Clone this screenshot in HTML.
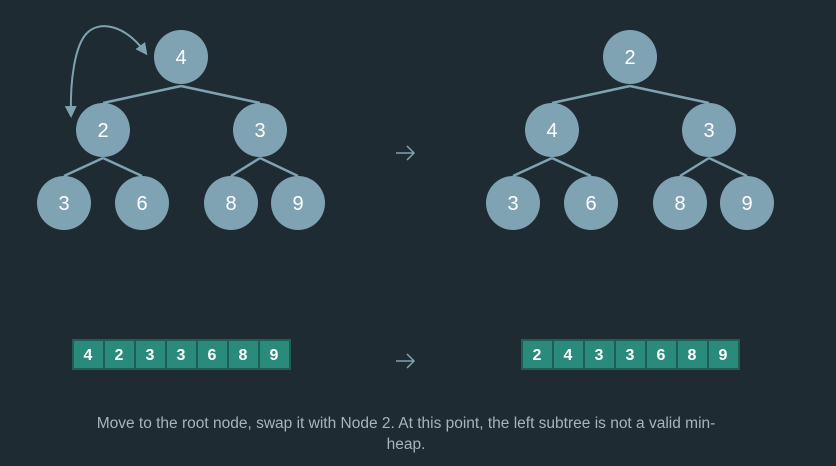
<!DOCTYPE html>
<html><head><style>
body{margin:0;background:#1f2b33;width:836px;height:466px;overflow:hidden;font-family:"Liberation Sans",sans-serif}
svg{position:absolute;left:0;top:0}
</style></head><body>
<svg width="836" height="466" viewBox="0 0 836 466">
<defs><marker id="ah" markerWidth="12" markerHeight="12" refX="8" refY="6" orient="auto" markerUnits="userSpaceOnUse"><path d="M0,0 L12,6 L0,12 z" fill="#7fa3b2"/></marker></defs>
<g stroke="#7fa3b2" stroke-width="2.5" fill="none">
<path d="M181 86 L103 103 M181 86 L260 103 M103 158 L64 176 M103 158 L142 176 M260 158 L231 176 M260 158 L298 176"/>
<path d="M630 86 L552 103 M630 86 L709 103 M552 158 L513 176 M552 158 L591 176 M709 158 L680 176 M709 158 L747 176"/>
<path d="M87 33 C 100 20, 125 25, 145 52" marker-end="url(#ah)" stroke-width="2"/>
<path d="M87 33 C 75 45, 70 80, 71 114" marker-end="url(#ah)" stroke-width="2"/>
</g>
<g stroke="#7fa3b2" stroke-width="1.5" fill="none">
<path d="M396 153 H414 M407 146 L414 153 L407 160"/>
<path d="M396 361 H414 M407 354 L414 361 L407 368"/>
</g>
<g fill="#7fa3b2">
<circle cx="181" cy="57" r="27"/><circle cx="103" cy="130" r="27"/><circle cx="260" cy="130" r="27"/>
<circle cx="64" cy="203" r="27"/><circle cx="142" cy="203" r="27"/><circle cx="231" cy="203" r="27"/><circle cx="298" cy="203" r="27"/>
<circle cx="630" cy="57" r="27"/><circle cx="552" cy="130" r="27"/><circle cx="709" cy="130" r="27"/>
<circle cx="513" cy="203" r="27"/><circle cx="591" cy="203" r="27"/><circle cx="680" cy="203" r="27"/><circle cx="747" cy="203" r="27"/>
</g>
<g fill="#fff" font-size="20" text-anchor="middle" font-family="Liberation Sans, sans-serif">
<text x="181" y="64">4</text><text x="103" y="137">2</text><text x="260" y="137">3</text>
<text x="64" y="210">3</text><text x="142" y="210">6</text><text x="231" y="210">8</text><text x="298" y="210">9</text>
<text x="630" y="64">2</text><text x="552" y="137">4</text><text x="709" y="137">3</text>
<text x="513" y="210">3</text><text x="591" y="210">6</text><text x="680" y="210">8</text><text x="747" y="210">9</text>
</g>
<rect x="72" y="339" width="219" height="31" fill="#1d5e55"/>
<rect x="521" y="339" width="219" height="31" fill="#1d5e55"/>
<g fill="#2a8a7c">
<rect x="74" y="341" width="29" height="27"/><rect x="105" y="341" width="29" height="27"/><rect x="136" y="341" width="29" height="27"/><rect x="167" y="341" width="29" height="27"/><rect x="198" y="341" width="29" height="27"/><rect x="229" y="341" width="29" height="27"/><rect x="260" y="341" width="29" height="27"/>
<rect x="523" y="341" width="29" height="27"/><rect x="554" y="341" width="29" height="27"/><rect x="585" y="341" width="29" height="27"/><rect x="616" y="341" width="29" height="27"/><rect x="647" y="341" width="29" height="27"/><rect x="678" y="341" width="29" height="27"/><rect x="709" y="341" width="29" height="27"/>
</g>
<g fill="#fff" font-size="16" font-weight="bold" text-anchor="middle">
<text x="88" y="360">4</text><text x="119" y="360">2</text><text x="150" y="360">3</text><text x="181" y="360">3</text><text x="212" y="360">6</text><text x="243" y="360">8</text><text x="274" y="360">9</text>
<text x="537" y="360">2</text><text x="568" y="360">4</text><text x="599" y="360">3</text><text x="630" y="360">3</text><text x="661" y="360">6</text><text x="692" y="360">8</text><text x="723" y="360">9</text>
</g>
<g fill="#a9b4ba" font-size="15.5" text-anchor="middle">
<text x="406" y="428">Move to the root node, swap it with Node 2. At this point, the left subtree is not a valid min-</text>
<text x="406" y="449">heap.</text>
</g>
</svg>
</body></html>
